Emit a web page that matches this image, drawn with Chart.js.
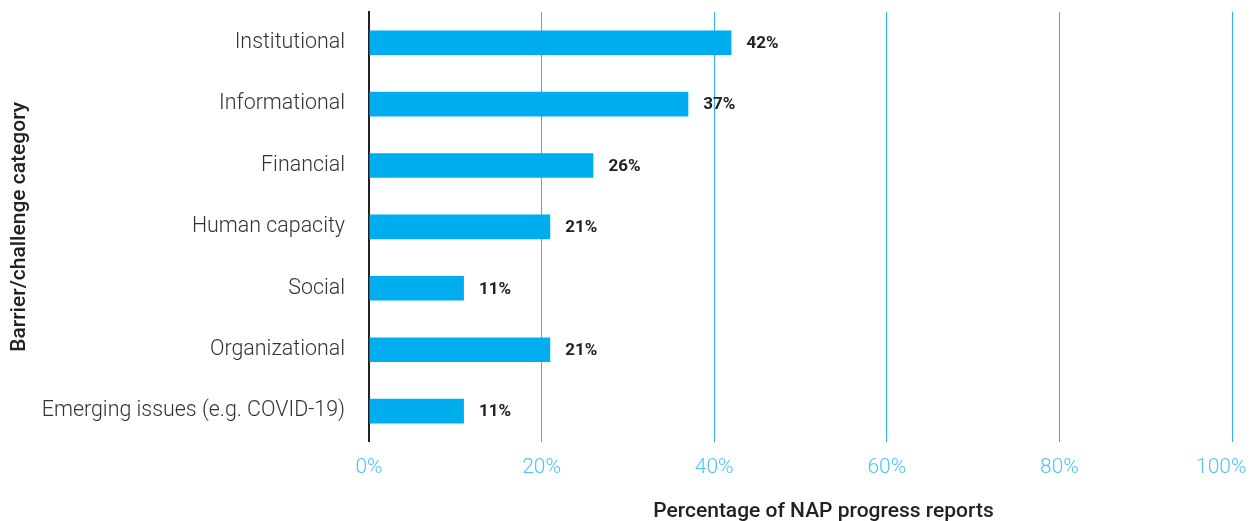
<!DOCTYPE html>
<html lang="en">
<head>
    <meta charset="UTF-8">
    <title>Barriers and challenges in NAP progress reports</title>
    <style>
        body {
            margin: 0;
            padding: 0;
            background: #fff;
            font-family: Roboto, Arial, sans-serif;
        }

        .container {
            width: 1250px;
            height: 521px;
        }
    </style>
    <script src="https://cdn.jsdelivr.net/npm/chart.js"></script>
</head>
<body>
    <div class="container">
        <canvas id="barChart"></canvas>
    </div>

    <script>
        // Data
        const categories = ['Institutional', 'Informational', 'Financial', 'Human capacity', 'Social', 'Organizational', 'Emerging issues (e.g. COVID-19)'];
        const shares = [42, 37, 26, 21, 11, 21, 11];
        const xTicks = [0, 20, 40, 60, 80, 100];

        const xTitle = 'Percentage of NAP progress reports';
        const yTitle = 'Barrier/challenge category';

        // Value labels at the end of each bar
        const valueLabels = {
            id: 'valueLabels',
            afterDatasetsDraw(chart) {
                const ctx = chart.ctx;
                const meta = chart.getDatasetMeta(0);
                ctx.save();
                ctx.font = 'bold 17px Roboto';
                ctx.fillStyle = '#222';
                ctx.textAlign = 'left';
                ctx.textBaseline = 'middle';
                meta.data.forEach((bar, i) => {
                    ctx.fillText(shares[i] + '%', bar.x + 15, bar.y + 1);
                });
                ctx.restore();
            }
        };

        // X axis title, sitting a little right of the plot centre
        const bottomTitle = {
            id: 'bottomTitle',
            afterDraw(chart) {
                const ctx = chart.ctx;
                const area = chart.chartArea;
                ctx.save();
                ctx.font = '500 21px Roboto';
                ctx.fillStyle = '#222';
                ctx.textAlign = 'center';
                ctx.textBaseline = 'middle';
                ctx.fillText(xTitle, (area.left + area.right) / 2 + 23, chart.height - 9);
                ctx.restore();
            }
        };

        const config = {
            type: 'bar',
            data: {
                labels: categories,
                datasets: [{
                    data: shares,
                    backgroundColor: '#00aeef',
                    borderWidth: 0,
                    barPercentage: 0.4,
                    categoryPercentage: 1
                }]
            },
            options: {
                indexAxis: 'y',
                responsive: true,
                maintainAspectRatio: false,
                animation: false,
                layout: {
                    padding: { top: 12, bottom: 28, left: 0, right: 18 }
                },
                plugins: {
                    legend: { display: false },
                    tooltip: { enabled: false }
                },
                scales: {
                    x: {
                        min: 0,
                        max: 100,
                        afterBuildTicks(scale) {
                            scale.ticks = xTicks.map(v => ({ value: v }));
                        },
                        afterFit(scale) {
                            scale.paddingLeft = 0;
                            scale.paddingRight = 0;
                        },
                        ticks: {
                            // last label is nudged left so it stays inside the canvas
                            callback: v => v === 100 ? v + '%\u2003' : v + '%',
                            color: '#4fc3f7',
                            font: { family: 'Roboto', size: 21, weight: 300 },
                            padding: 13,
                            maxRotation: 0
                        },
                        grid: {
                            color: '#29b6f6',
                            lineWidth: 1,
                            drawTicks: false
                        },
                        border: { display: false }
                    },
                    y: {
                        afterFit(scale) {
                            scale.width = 369;
                            scale.paddingTop = 0;
                            scale.paddingBottom = 0;
                        },
                        ticks: {
                            color: '#333',
                            font: { family: 'Roboto', size: 21.4, weight: 300 },
                            padding: 24
                        },
                        grid: {
                            display: false,
                            drawTicks: false
                        },
                        border: {
                            display: true,
                            color: '#222',
                            width: 2
                        },
                        title: {
                            display: true,
                            text: yTitle,
                            color: '#222',
                            font: { family: 'Roboto', size: 21, weight: 500 },
                            padding: { top: 7, bottom: 0 }
                        }
                    }
                }
            },
            plugins: [valueLabels, bottomTitle]
        };

        const barChart = new Chart(document.getElementById('barChart'), config);
    </script>
</body>
</html>
